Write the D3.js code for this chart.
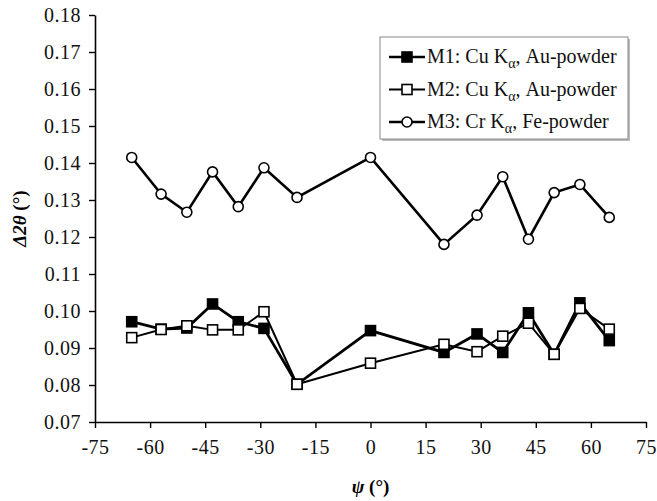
<!DOCTYPE html>
<html>
<head>
<meta charset="utf-8">
<script src="https://cdn.jsdelivr.net/npm/d3@7"></script>
<style>
  body { margin: 0; background: #fff; }
  svg text { font-family: "Liberation Serif", "Times New Roman", Times, serif; }
</style>
</head>
<body>
<div id="chart"></div>
<script>
// data
var psi = [-65, -57, -50, -43, -36, -29, -20, 0, 20, 29, 36, 43, 50, 57, 65];
var m1 = [0.0971, 0.0951, 0.0954, 0.1019, 0.0971, 0.0953, 0.0802, 0.0947, 0.0888, 0.0938, 0.0888, 0.0995, 0.0883, 0.1022, 0.0920];
var m2 = [0.0928, 0.0950, 0.0960, 0.0949, 0.0949, 0.0998, 0.0802, 0.0859, 0.0910, 0.0890, 0.0932, 0.0967, 0.0883, 0.1007, 0.0951];
var m3 = [0.1415, 0.1316, 0.1267, 0.1376, 0.1282, 0.1387, 0.1307, 0.1415, 0.1180, 0.1259, 0.1363, 0.1194, 0.1320, 0.1342, 0.1253];
var xTicks = [-75, -60, -45, -30, -15, 0, 15, 30, 45, 60, 75];
var yTicks = [0.07, 0.08, 0.09, 0.10, 0.11, 0.12, 0.13, 0.14, 0.15, 0.16, 0.17, 0.18];
var legendLabels = [
    ["M1: Cu K", "α", ", Au-powder"],
    ["M2: Cu K", "α", ", Au-powder"],
    ["M3: Cr K", "α", ", Fe-powder"]
];

var serif = "'Liberation Serif', 'Times New Roman', Times, serif";
var W = 657, H = 501;
var margin = {top: 15, right: 11, bottom: 79, left: 95};

var x = d3.scaleLinear().domain([-75, 75]).range([margin.left, W - margin.right]);
var y = d3.scaleLinear().domain([0.07, 0.18]).range([H - margin.bottom, margin.top]);

var svg = d3.select("#chart").append("svg")
    .attr("width", W)
    .attr("height", H)
    .attr("font-family", serif);

// axes (plain hyphen for negatives, like the original)
var xAxis = svg.append("g")
    .attr("transform", "translate(0," + (H - margin.bottom) + ")")
    .call(d3.axisBottom(x).tickValues(xTicks).tickFormat(function(d) { return String(d); })
        .tickSize(6).tickSizeOuter(0).tickPadding(12));

var yAxis = svg.append("g")
    .attr("transform", "translate(" + margin.left + ",0)")
    .call(d3.axisLeft(y).tickValues(yTicks).tickFormat(d3.format(".2f"))
        .tickSize(6).tickSizeOuter(0).tickPadding(8));

[xAxis, yAxis].forEach(function(g) {
    g.attr("font-family", serif).attr("font-size", 20);
    g.select(".domain").attr("stroke", "#000").attr("stroke-width", 1.6);
    g.selectAll(".tick line").attr("stroke", "#000").attr("stroke-width", 1.4);
    g.selectAll(".tick text").attr("fill", "#111").attr("letter-spacing", 0.5);
});

// axis titles
svg.append("text")
    .attr("x", x(0))
    .attr("y", 493)
    .attr("text-anchor", "middle")
    .attr("font-size", 19)
    .attr("font-weight", "bold")
    .html('<tspan font-style="italic">ψ</tspan> (°)');

svg.append("text")
    .attr("transform", "translate(26," + y(0.125) + ") rotate(-90)")
    .attr("text-anchor", "middle")
    .attr("font-size", 19)
    .attr("font-weight", "bold")
    .html('<tspan font-style="italic">Δ2θ</tspan> (°)');

var line = d3.line()
    .x(function(d) { return x(d[0]); })
    .y(function(d) { return y(d[1]); });

function pairs(vals) {
    return psi.map(function(p, i) { return [p, vals[i]]; });
}

// M3 circles
svg.append("path")
    .datum(pairs(m3))
    .attr("d", line)
    .attr("fill", "none")
    .attr("stroke", "#000")
    .attr("stroke-width", 2.6);

svg.selectAll("circle.m3")
    .data(pairs(m3))
    .enter().append("circle")
    .attr("class", "m3")
    .attr("cx", function(d) { return x(d[0]); })
    .attr("cy", function(d) { return y(d[1]); })
    .attr("r", 5)
    .attr("fill", "#fff")
    .attr("stroke", "#000")
    .attr("stroke-width", 1.6);

// M1 filled squares, M2 open squares on top
var sq = 10;
[[m1, "#000", 2.8], [m2, "#fff", 2]].forEach(function(s, k) {
    svg.append("path")
        .datum(pairs(s[0]))
        .attr("d", line)
        .attr("fill", "none")
        .attr("stroke", "#000")
        .attr("stroke-width", s[2]);

    svg.selectAll("rect.s" + k)
        .data(pairs(s[0]))
        .enter().append("rect")
        .attr("class", "s" + k)
        .attr("x", function(d) { return x(d[0]) - sq / 2; })
        .attr("y", function(d) { return y(d[1]) - sq / 2; })
        .attr("width", sq)
        .attr("height", sq)
        .attr("fill", s[1])
        .attr("stroke", "#000")
        .attr("stroke-width", 1.6);
});

// legend
var lg = svg.append("g").attr("transform", "translate(380,37)");
lg.append("rect")
    .attr("x", 2).attr("y", 2)
    .attr("width", 248).attr("height", 102)
    .attr("fill", "#bbb");
lg.append("rect")
    .attr("width", 248).attr("height", 102)
    .attr("fill", "#fff")
    .attr("stroke", "#888")
    .attr("stroke-width", 1);

legendLabels.forEach(function(lab, i) {
    var ly = 20 + i * 32.5;
    lg.append("line")
        .attr("x1", 9).attr("x2", 45)
        .attr("y1", ly).attr("y2", ly)
        .attr("stroke", "#000")
        .attr("stroke-width", i == 1 ? 2 : 2.6);
    if (i < 2) {
        lg.append("rect")
            .attr("x", 27 - sq / 2).attr("y", ly - sq / 2)
            .attr("width", sq).attr("height", sq)
            .attr("fill", i == 0 ? "#000" : "#fff")
            .attr("stroke", "#000")
            .attr("stroke-width", 1.6);
    } else {
        lg.append("circle")
            .attr("cx", 27).attr("cy", ly).attr("r", 5)
            .attr("fill", "#fff")
            .attr("stroke", "#000")
            .attr("stroke-width", 1.6);
    }
    var t = lg.append("text")
        .attr("x", 47)
        .attr("y", ly + 6)
        .attr("font-size", 20)
        .attr("fill", "#111");
    t.append("tspan").text(lab[0]);
    t.append("tspan").attr("dy", 5).attr("font-size", 14).text(lab[1]);
    t.append("tspan").attr("dy", -5).text(lab[2]);
});
</script>
</body>
</html>
